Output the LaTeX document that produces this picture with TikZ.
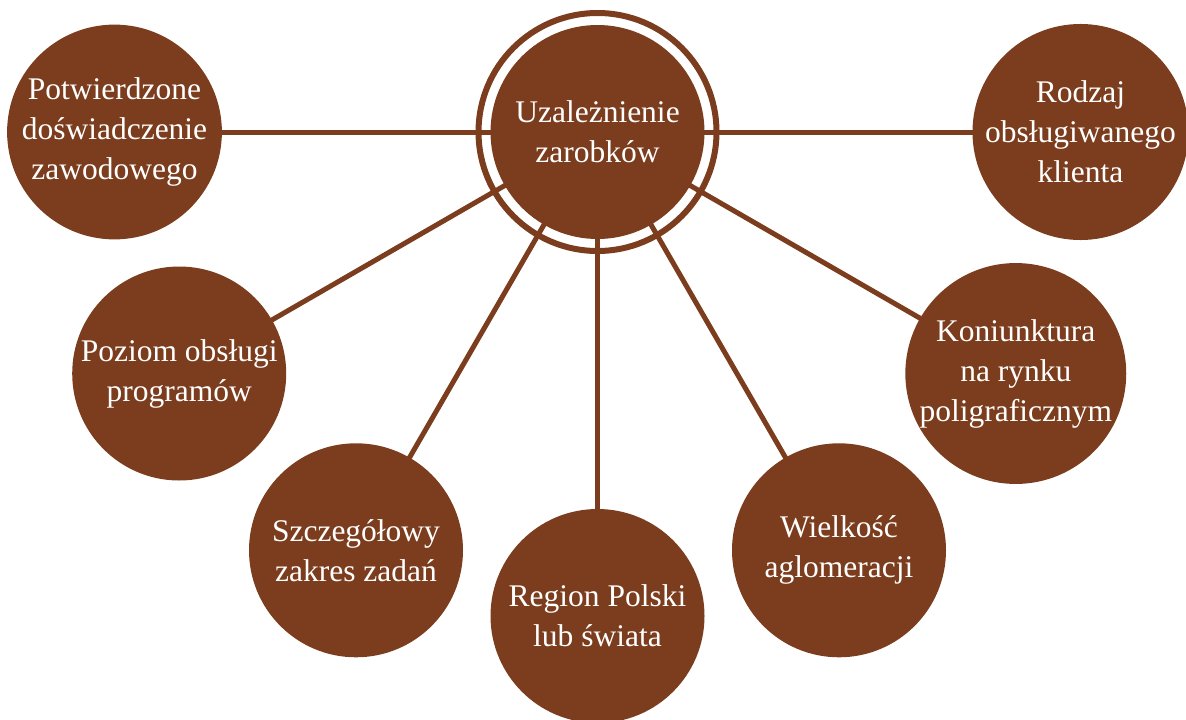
\documentclass[tikz,border=0pt]{standalone}
\usepackage{fontspec}
\setmainfont{Liberation Serif}
\usetikzlibrary{backgrounds}
\definecolor{diagbrown}{RGB}{123,61,29}
\begin{document}
\begin{tikzpicture}[x=1pt,y=1pt,
  sat/.style={circle, fill=diagbrown, minimum size=214pt, inner sep=0pt,
    text=white, font=\fontsize{31.5}{40}\selectfont, align=center},
  link/.style={draw=diagbrown, line width=5pt},
  ring/.style={draw=diagbrown, line width=6pt}]
\useasboundingbox (0,0) rectangle (1186,-720);
\coordinate (c) at (597.5,-132);
\node[sat] (hub) at (c) {Uzależnienie\\zarobków};
\draw[ring] (hub.center) circle (119pt);
\node[sat] (s1) at ([shift={(180:483)}]c) {Potwierdzone\\doświadczenie\\zawodowego};
\node[sat] (s2) at ([shift={(210:483)}]c) {Poziom obsługi\\programów};
\node[sat] (s3) at ([shift={(240:483)}]c) {Szczegółowy\\zakres zadań};
\node[sat] (s4) at ([shift={(270:484)}]c) {Region Polski\\lub świata};
\node[sat] (s5) at ([shift={(300:483)}]c) {Wielkość\\aglomeracji};
\node[sat] (s6) at ([shift={(330:483)}]c) {Koniunktura\\na rynku\\poligraficznym};
\node[sat] (s7) at ([shift={(0:483)}]c) {Rodzaj\\obsługiwanego\\klienta};
\begin{scope}[on background layer]
\foreach \s in {s1,s2,s3,s4,s5,s6,s7}
  \draw[link] (\s.center) -- (hub.center);
\end{scope}
\end{tikzpicture}
\end{document}
